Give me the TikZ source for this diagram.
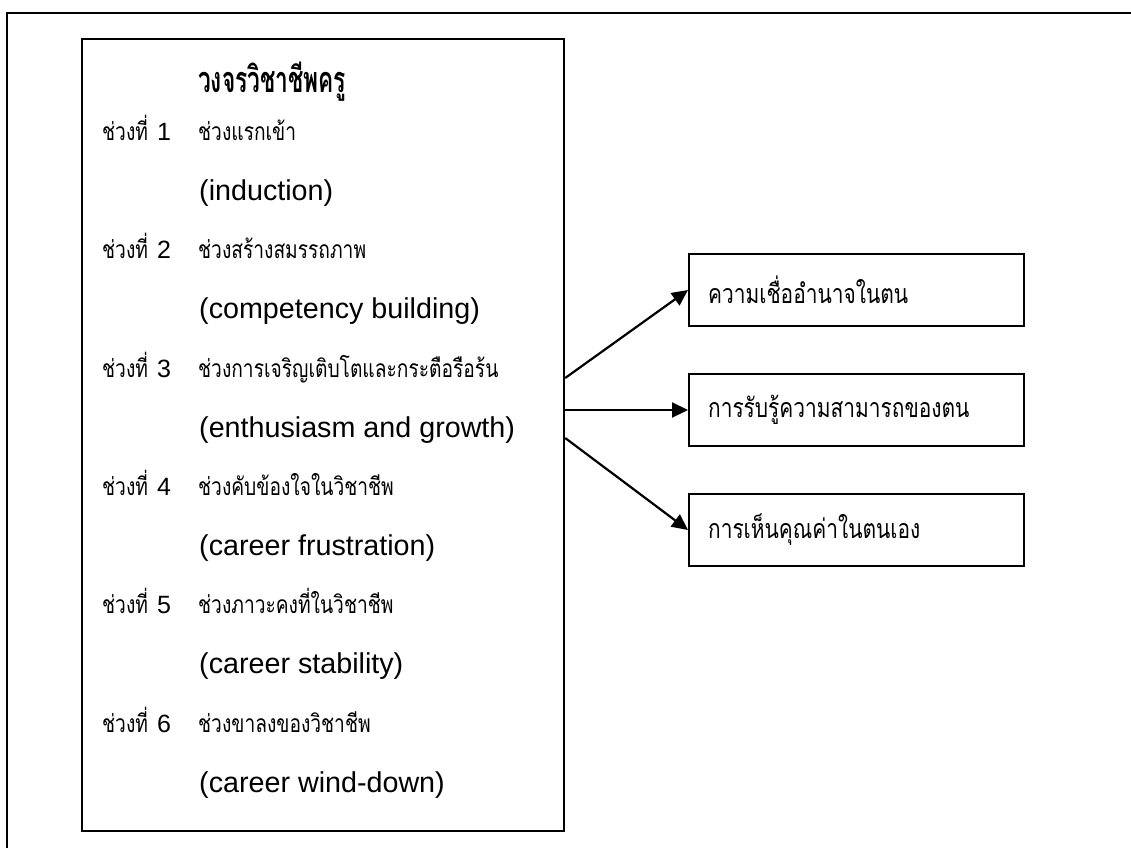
\documentclass[tikz,border=0pt]{standalone}
\usepackage{fontspec}
\setmainfont{Liberation Sans}
\newfontfamily\thai[Script=Thai,FakeStretch=0.78]{Loma}
\newfontfamily\thaihead[Script=Thai,FakeStretch=0.63]{Loma}
\usetikzlibrary{arrows.meta,calc}

\begin{document}
\begin{tikzpicture}[x=1pt,y=-1pt,
  frame/.style={line width=2.2pt},
  thaitxt/.style={anchor=base west,inner sep=0pt,font=\thai\fontsize{24.6}{28}\selectfont},
  engtxt/.style={anchor=base west,inner sep=0pt,font=\fontsize{28.7}{33}\selectfont},
  stagenum/.style={anchor=base west,inner sep=0pt,font=\fontsize{25}{28}\selectfont},
  outcome/.style={draw,line width=2.2pt,anchor=west,minimum width=335pt,minimum height=72pt,
    inner xsep=19pt,text width=297pt,align=left,font=\thai\fontsize{26.8}{30}\selectfont},
  link/.style={line width=2.2pt,-{Triangle[length=16pt,width=15pt]}}]
\useasboundingbox (0,0) rectangle (1131,848);

% outer frame (runs off the page on the right and bottom)
\draw[frame] (7,848) -- (7,13) -- (1131,13);

% teacher career cycle box
\node[draw,frame,anchor=north west,minimum width=482pt,minimum height=792pt,inner sep=0pt] (cycle) at (81,38) {};

\node[anchor=base west,inner sep=0pt,font=\thaihead\bfseries\fontsize{36}{42}\selectfont] (title) at (198,93) {วงจรวิชาชีพครู};

\foreach \i/\y/\th/\en in {
  1/140/ช่วงแรกเข้า/(induction),
  2/258/ช่วงสร้างสมรรถภาพ/(competency building),
  3/377/ช่วงการเจริญเติบโตและกระตือรือร้น/(enthusiasm and growth),
  4/495/ช่วงคับข้องใจในวิชาชีพ/(career frustration),
  5/613/ช่วงภาวะคงที่ในวิชาชีพ/(career stability),
  6/732/ช่วงขาลงของวิชาชีพ/(career wind-down)} {
  \node[thaitxt] (lab\i) at (102,\y) {ช่วงที่};
  \node[stagenum] (num\i) at (157,\y) {\i};
  \node[thaitxt] (name\i) at (198,\y) {\th};
  \node[engtxt] (eng\i) at (199,\y+60) {\en};
}

% outcome boxes
\node[outcome] (selfctl) at (688,290) {ความเชื่ออำนาจในตน};
\node[outcome] (selfeff) at (688,410) {การรับรู้ความสามารถของตน};
\node[outcome] (selfest) at (688,530) {การเห็นคุณค่าในตนเอง};

% arrows leaving the cycle box
\coordinate (o1) at ($(cycle.north east)+(0,340)$);
\coordinate (o2) at ($(cycle.north east)+(0,372)$);
\coordinate (o3) at ($(cycle.north east)+(0,400)$);
\draw[link] (o1) -- (selfctl.west);
\draw[link] (o2) -- (selfeff.west);
\draw[link] (o3) -- (selfest.west);
\end{tikzpicture}
\end{document}
